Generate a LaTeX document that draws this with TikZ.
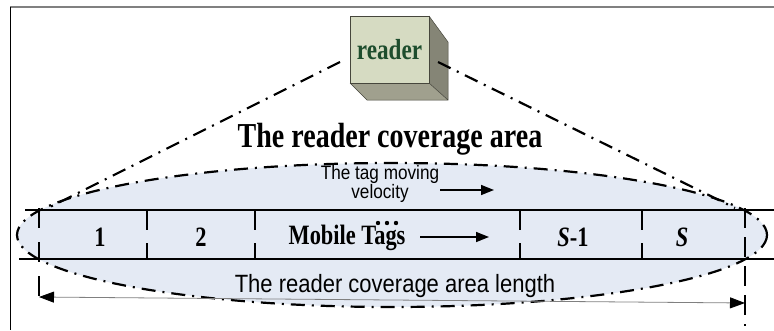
\documentclass[tikz,border=0pt]{standalone}
\usepackage{fontspec}
\setmainfont{Liberation Serif}[FakeStretch=0.8]
\newfontfamily\labelsans{Liberation Sans}[FakeStretch=0.88]
\usetikzlibrary{arrows.meta}
\definecolor{zonefill}{RGB}{228,234,244}
\definecolor{cubefront}{RGB}{214,219,194}
\definecolor{cubeside}{RGB}{133,133,118}
\definecolor{cubebottom}{RGB}{160,160,142}
\definecolor{cubeedge}{RGB}{70,70,60}
\definecolor{readergreen}{RGB}{30,77,45}
\definecolor{framegray}{RGB}{128,128,128}
\begin{document}
\begin{tikzpicture}[x=1pt,y=-1pt,
  dashdot/.style={line width=2.2pt, dash pattern=on 14pt off 7pt on 2pt off 7pt},
  rail/.style={line width=2.1pt},
  divider/.style={line width=2.1pt, dash pattern=on 20pt off 13pt},
  flow/.style={line width=1.5pt, -{Triangle[length=13pt,width=10pt]}},
  dimline/.style={line width=0.8pt, draw=gray,
    {Triangle[length=15pt,width=11pt,black]}-{Triangle[length=15pt,width=11pt,black]}},
  celltext/.style={font=\bfseries\fontsize{28}{28}\selectfont, anchor=base, inner sep=0pt},
  sanslabel/.style={font=\labelsans\fontsize{19.5}{14.5}\selectfont, align=center, inner sep=0pt},
]
\useasboundingbox (0,0) rectangle (774,330);

% frame edges
\draw[framegray, line width=2pt] (10,7) -- (774,7);
\draw[black, line width=1pt] (10.5,7) -- (10.5,330);

% coverage zone
\draw[dashdot, fill=zonefill] (392,235) ellipse [x radius=375, y radius=72];

% reader cube: side faces, then the front face
\coordinate (cA) at (350,83);
\coordinate (cB) at (429,83);
\coordinate (cC) at (429,16);
\coordinate (cD) at (448,42);
\coordinate (cE) at (448,100);
\coordinate (cF) at (367,100);
\fill[cubebottom] (cA) -- (cB) -- (cE) -- (cF) -- cycle;
\fill[cubeside] (cB) -- (cC) -- (cD) -- (cE) -- cycle;
\draw[cubeedge, line width=0.5pt] (cA) -- (cF) -- (cE) -- (cD) -- (cC) (cB) -- (cE);
\node[draw=cubeedge, line width=0.5pt, fill=cubefront, minimum width=79pt, minimum height=67pt,
      inner sep=0pt, text=readergreen, font=\bfseries\fontsize{29}{29}\selectfont]
      (reader) at (389.5,49.5) {reader};

% lines of sight from the reader
\coordinate (sightLtop) at (340,62);
\coordinate (sightLbot) at (48,208);
\coordinate (sightRtop) at (438,62);
\coordinate (sightRbot) at (735,208);
\draw[dashdot] (sightLtop) -- (sightLbot);
\draw[dashdot] (sightRtop) -- (sightRbot);

\node[font=\bfseries\fontsize{35}{35}\selectfont, anchor=base, inner sep=0pt]
  (zonetitle) at (390,147) {The reader coverage area};

% the track of tags
\coordinate (railTL) at (25,210);
\coordinate (railTR) at (774,210);
\coordinate (railBL) at (19,259);
\coordinate (railBR) at (774,259);
\draw[rail] (railTL) -- (railTR);
\draw[rail] (railBL) -- (railBR);

\foreach \xd [count=\i] in {147,255,520,642}{
  \coordinate (divT\i) at (\xd,210);
  \coordinate (divB\i) at (\xd,260);
  \draw[divider] (divT\i) -- (divB\i);
}
\coordinate (edgeLtop) at (39,208);
\coordinate (edgeLbot) at (39,297);
\coordinate (edgeRtop) at (745,208);
\coordinate (edgeRbot) at (745,326);
\draw[line width=2.1pt, dash pattern=on 20pt off 14pt] (edgeLtop) -- (edgeLbot);
\draw[line width=2.1pt, dash pattern=on 20pt off 9pt] (edgeRtop) -- (edgeRbot);

% cell labels
\node[celltext] (cell1) at (100,246) {1};
\node[celltext] (cell2) at (201,246) {2};
\node[celltext] (mobile) at (347,244) {Mobile Tags};
\node[celltext] (cellS1) at (573,246) {\textit{S}-1};
\node[celltext] (cellS) at (682,246) {\textit{S}};

\foreach \xd [count=\i] in {378,387,396}{
  \fill (\xd,223) circle [radius=2.2pt];
}

\coordinate (moveA) at (420,237);
\coordinate (moveB) at (489,237);
\draw[flow] (moveA) -- (moveB);

\node[sanslabel] (velo) at (380,184) {The tag moving\\velocity};
\coordinate (veloA) at (440,190);
\coordinate (veloB) at (494,190);
\draw[flow] (veloA) -- (veloB);

% coverage length
\coordinate (lenL) at (39,297);
\coordinate (lenR) at (745,303);
\draw[dimline] (lenL) -- (lenR);
\node[font=\labelsans\fontsize{25}{25}\selectfont, anchor=base, inner sep=0pt]
  (lenlabel) at (395,292) {The reader coverage area length};
\end{tikzpicture}
\end{document}
